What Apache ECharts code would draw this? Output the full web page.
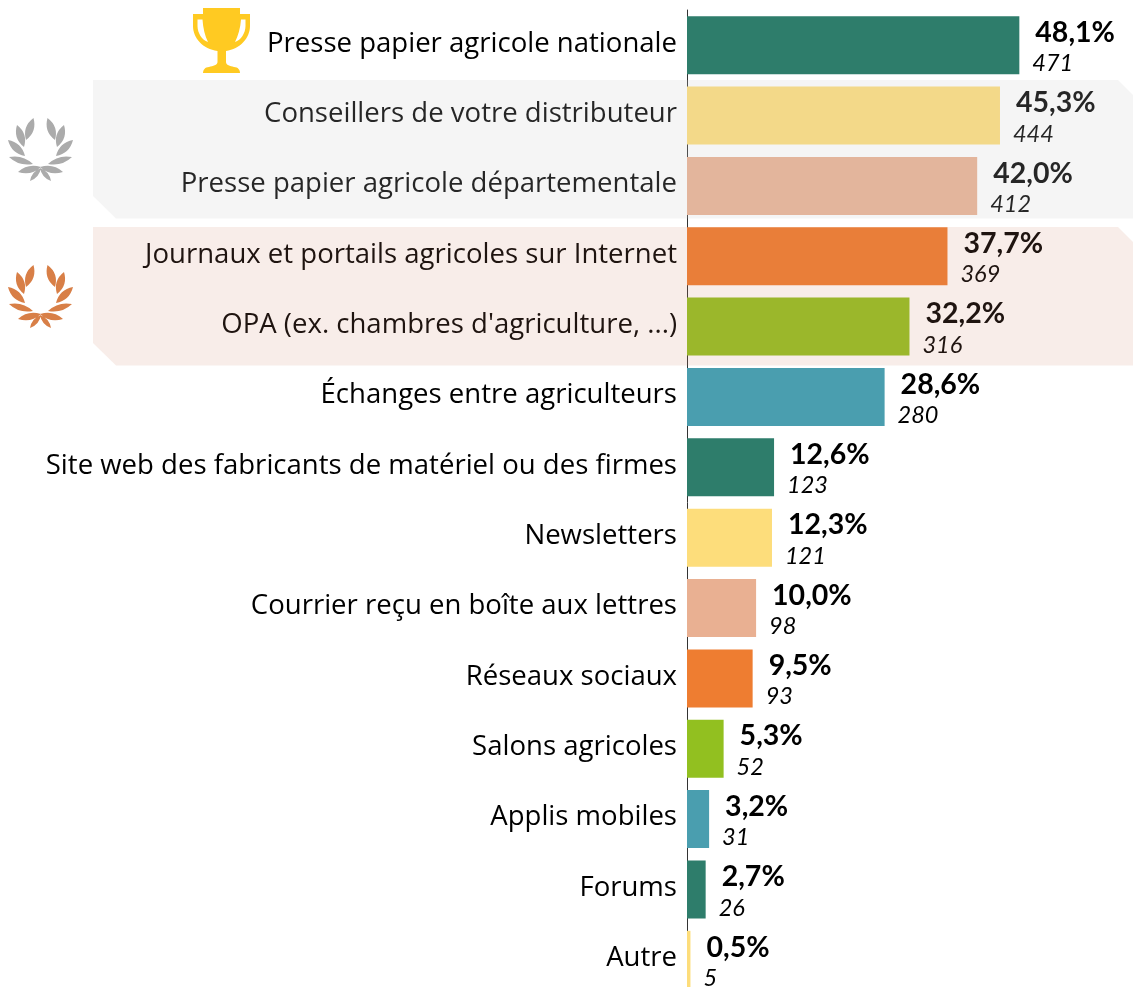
<!DOCTYPE html>
<html><head><meta charset="utf-8">
<style>html,body{margin:0;padding:0;background:#fff;overflow:hidden;height:987px}#c{width:1133px;height:1000px}</style>
<script src="https://cdn.jsdelivr.net/npm/echarts@6/dist/echarts.min.js"></script>
</head><body><div id="c"></div>
<script>
const categories = ["Presse papier agricole nationale","Conseillers de votre distributeur","Presse papier agricole départementale","Journaux et portails agricoles sur Internet","OPA (ex. chambres d'agriculture, ...)","Échanges entre agriculteurs","Site web des fabricants de matériel ou des firmes","Newsletters","Courrier reçu en boîte aux lettres","Réseaux sociaux","Salons agricoles","Applis mobiles","Forums","Autre"];
const percents = [48.1,45.3,42.0,37.7,32.2,28.6,12.6,12.3,10.0,9.5,5.3,3.2,2.7,0.5];
const counts = [471,444,412,369,316,280,123,121,98,93,52,31,26,5];
const palette = ["#2E7D6B","#FDDD7B","#E9B092","#EE7D31","#92C020","#4A9EAF"];

function leaf(x1,y1,x2,y2,b){
  const mx=(x1+x2)/2,my=(y1+y2)/2,dx=x2-x1,dy=y2-y1,l=Math.hypot(dx,dy),nx=-dy/l*b,ny=dx/l*b;
  const c=(s)=>`${(mx+s*nx).toFixed(1)} ${(my+s*ny).toFixed(1)}`;
  return `M${x1} ${y1}Q${c(1)} ${x2} ${y2}Q${c(-1)} ${x1} ${y1}Z`;
}
function wreathPath(){
  const L=[[33.5,118,26,140,8],[17,125,24,147,8],[8,140,25,156,7.5],[9,157,33,164,6.5],[18,172,41,167,7],[30,181,41,168,5]];
  const cx=40.5; let d='';
  L.forEach(a=>{ d+=leaf(a[0],a[1],a[2],a[3],a[4]); d+=leaf(2*cx-a[0],a[1],2*cx-a[2],a[3],a[4]); });
  return d;
}
const trophy = "M203 8H240V14H250V26C250 38 240 49 226 51V62C226 65 230 66 234 67C238 67 240 70 240 73H203C203 70 205 67 209 67C213 66 217.5 65 217.5 62V51C203 49 193 38 193 26V14H203ZM197.5 19.5V26C197.5 33 202 40 208 42C205 36 203 28 202.5 19.5ZM241 19.5C240.5 28 238 36 235 42C241 40 245.5 33 245.5 26V19.5Z";
echarts.graphic.registerShape('trophyShape', echarts.graphic.extendPath(trophy,{}));
echarts.graphic.registerShape('wreathShape', echarts.graphic.extendPath(wreathPath(),{}));

const chart = echarts.init(document.getElementById('c'),null,{renderer:'canvas'});
chart.setOption({
  animation:false,
  grid:{left:687,right:0,top:10,height:985,containLabel:false},
  xAxis:{type:'value',min:0,max:64.55,show:false},
  yAxis:{type:'category',inverse:true,data:categories,
    axisLine:{show:true,lineStyle:{color:'#333',width:1}},axisTick:{show:false},
    axisLabel:{margin:10,interval:0,formatter:v=>`{a|${v}}`,
      rich:{a:{fontFamily:'"Open Sans"',fontSize:27.55,color:'#000',padding:[0,0,3,0]}}}},
  series:[{type:'bar',barWidth:58,
    data:percents.map((v,i)=>({value:v,itemStyle:{color:palette[i%palette.length]}})),
    label:{show:true,position:'right',distance:13,offset:[0,1.5],
      formatter:p=>`{p|${percents[p.dataIndex].toFixed(1).replace('.',',')}%}\n{n|${counts[p.dataIndex]}}`,
      rich:{p:{fontFamily:'Lato',fontWeight:'bold',fontSize:28.5,color:'#000',padding:[0,0,0,3],lineHeight:34},
            n:{fontFamily:'Lato',fontStyle:'italic',fontSize:23.5,color:'#000',lineHeight:28}}}
  }],
  graphic:[
    {type:'polygon',z:100,shape:{points:[[93,80],[1118,80],[1133,95],[1133,218.5],[116,218.5],[93,196]]},style:{fill:'rgba(200,200,200,0.19)'}},
    {type:'polygon',z:100,shape:{points:[[93,227],[1118,227],[1133,242],[1133,365.5],[116,365.5],[93,343]]},style:{fill:'rgba(208,134,107,0.15)'}},
    {type:'trophyShape',z:101,style:{fill:'#FFCA22'}},
    {type:'wreathShape',z:101,style:{fill:'#ABABAB'}},
    {type:'wreathShape',z:101,y:147,style:{fill:'#D87F47'}}
  ]
});
</script></body></html>
